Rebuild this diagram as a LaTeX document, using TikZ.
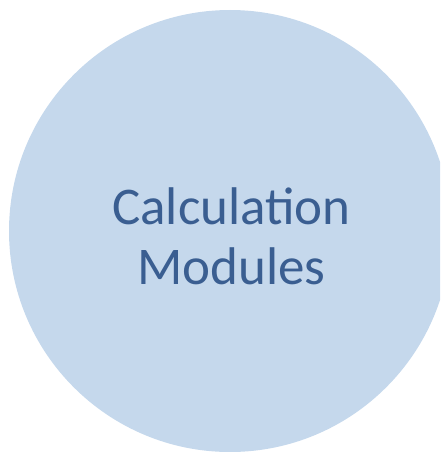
\documentclass[tikz,border=0pt]{standalone}
\usepackage{fontspec}
\setmainfont{Carlito}
\definecolor{circfill}{HTML}{C5D8EC}
\definecolor{txtblue}{HTML}{3A5E91}
\begin{document}
\begin{tikzpicture}[x=1pt,y=-1pt]
\useasboundingbox (0,0) rectangle (440,452);
\begin{scope}
\clip (0,0) rectangle (440,452);
\fill[circfill] (230,231) circle (221);
\end{scope}
\node[text=txtblue, font=\fontsize{53}{60}\selectfont, align=center] (lbl) at (231.5,236) {Calculation\\Modules};
\end{tikzpicture}
\end{document}
